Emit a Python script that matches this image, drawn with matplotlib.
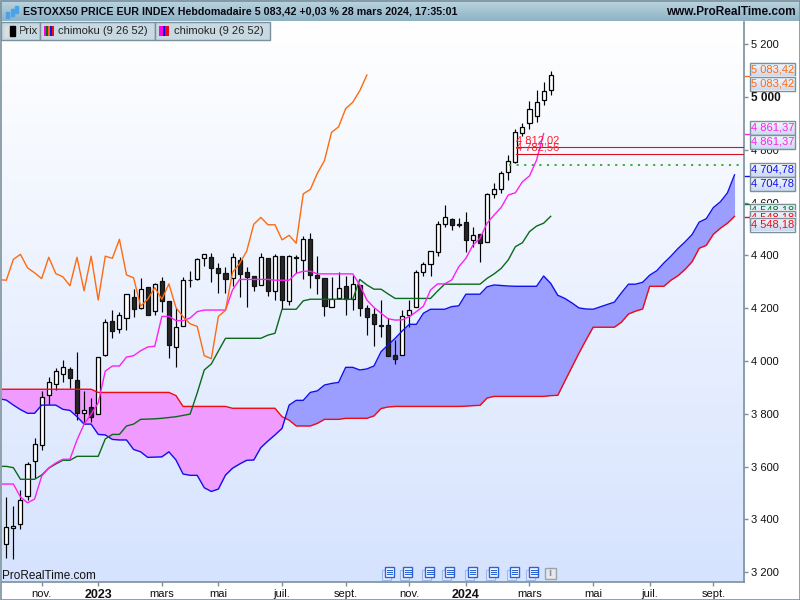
import matplotlib
matplotlib.use("Agg")
import matplotlib.pyplot as plt
import numpy as np
from matplotlib.patches import Rectangle

plt.rcParams["font.family"] = ["Liberation Sans", "DejaVu Sans"]

TITLE = "ESTOXX50 PRICE EUR INDEX Hebdomadaire 5 083,42 +0,03 % 28 mars 2024, 17:35:01"
SITE = "www.ProRealTime.com"
TABS = ["Prix", "chimoku (9 26 52)", "chimoku (9 26 52)"]

# weekly candles
opens = [3306, 3366, 3381, 3487, 3620, 3681, 3870, 3912, 3950, 3969, 3927, 3804, 3826,
         3798, 4024, 4151, 4120, 4162, 4241, 4200, 4279, 4188, 4302, 4226, 4052, 4131,
         4308, 4309, 4389, 4394, 4352, 4332, 4313, 4383, 4337, 4322, 4287, 4390, 4266,
         4398, 4228, 4393, 4381, 4461, 4326, 4313, 4206, 4240, 4284, 4236, 4288, 4201,
         4178, 4135, 4136, 4022, 4022, 4173, 4203, 4336, 4366, 4412, 4518, 4537, 4519,
         4525, 4457, 4480, 4450, 4631, 4650, 4715, 4753, 4862, 4900, 4927, 4987, 5025]
highs = [3484, 3450, 3511, 3616, 3707, 3885, 3941, 3973, 4003, 3977, 4033, 3885, 3859,
         4014, 4159, 4193, 4186, 4253, 4272, 4314, 4279, 4297, 4319, 4226, 4201, 4319,
         4342, 4390, 4405, 4409, 4370, 4357, 4408, 4393, 4355, 4322, 4408, 4390, 4405,
         4398, 4401, 4401, 4473, 4486, 4398, 4313, 4317, 4337, 4322, 4326, 4288, 4212,
         4201, 4231, 4162, 4080, 4193, 4231, 4345, 4376, 4416, 4530, 4591, 4541, 4541,
         4563, 4509, 4480, 4637, 4673, 4721, 4780, 4878, 4900, 4985, 5027, 5056, 5097]
lows = [3255, 3251, 3365, 3473, 3556, 3663, 3837, 3890, 3920, 3897, 3776, 3765, 3769,
        3798, 4019, 4088, 4105, 4117, 4166, 4196, 4175, 4175, 4186, 4012, 3976, 4131,
        4281, 4307, 4361, 4300, 4259, 4259, 4284, 4244, 4206, 4266, 4287, 4246, 4231,
        4196, 4212, 4334, 4309, 4275, 4254, 4170, 4206, 4234, 4174, 4193, 4170, 4098,
        4058, 4092, 4020, 3989, 4022, 4130, 4203, 4322, 4322, 4398, 4509, 4496, 4509,
        4414, 4433, 4376, 4450, 4616, 4635, 4686, 4749, 4852, 4879, 4906, 4970, 5009]
closes = [3372, 3376, 3472, 3609, 3684, 3865, 3922, 3961, 3976, 3936, 3802, 3813, 3789,
          4014, 4147, 4115, 4173, 4253, 4196, 4272, 4175, 4291, 4226, 4062, 4128, 4308,
          4306, 4385, 4404, 4353, 4334, 4312, 4393, 4331, 4319, 4285, 4393, 4266, 4397,
          4231, 4397, 4389, 4461, 4326, 4315, 4208, 4234, 4278, 4234, 4292, 4202, 4168,
          4141, 4131, 4020, 4009, 4169, 4192, 4336, 4369, 4416, 4518, 4544, 4516, 4516,
          4459, 4476, 4446, 4633, 4650, 4711, 4759, 4866, 4887, 4956, 4980, 5024, 5083]

tenkan = [3534, 3534, 3534, 3485, 3463, 3477, 3564, 3595, 3614, 3628, 3628,
          3701, 3761, 3799, 3841, 3962, 3981, 3981, 4015, 4020, 4039,
          4053, 4056, 4169, 4169, 4153, 4153, 4163, 4187, 4193, 4193,
          4193, 4193, 4269, 4309, 4309, 4309, 4309, 4309, 4306, 4306,
          4306, 4332, 4340, 4340, 4330, 4330, 4330, 4330, 4330, 4330,
          4288, 4231, 4203, 4181, 4160, 4155, 4156, 4168, 4187, 4208,
          4269, 4292, 4292, 4307, 4357, 4389, 4439, 4465, 4522, 4553,
          4582, 4629, 4637, 4679, 4701, 4761, 4861]
kijun = [3601, 3601, 3596, 3552, 3552, 3552, 3568, 3594, 3610, 3624, 3624,
         3639, 3639, 3639, 3639, 3705, 3722, 3722, 3754, 3761, 3779,
         3780, 3781, 3783, 3786, 3789, 3794, 3799, 3879, 3966, 3989,
         4038, 4086, 4086, 4086, 4086, 4086, 4086, 4098, 4105, 4196,
         4196, 4196, 4228, 4234, 4234, 4234, 4234, 4234, 4234, 4234,
         4309, 4288, 4272, 4272, 4254, 4237, 4237, 4237, 4237, 4237,
         4237, 4265, 4291, 4291, 4291, 4291, 4291, 4291, 4313, 4330,
         4351, 4383, 4433, 4448, 4490, 4511, 4522, 4548]
senkou_a = [3857, 3852, 3833, 3816, 3802, 3802, 3833, 3833, 3833, 3817, 3813,
            3789, 3761, 3761, 3722, 3720, 3703, 3701, 3701, 3665, 3656,
            3635, 3636, 3637, 3656, 3625, 3572, 3567, 3567, 3520, 3506,
            3515, 3568, 3594, 3610, 3624, 3625, 3672, 3697, 3720, 3745,
            3833, 3851, 3851, 3881, 3887, 3909, 3915, 3919, 3976, 3976,
            3966, 3970, 3981, 4035, 4061, 4086, 4114, 4139, 4139, 4181,
            4196, 4196, 4196, 4206, 4209, 4253, 4253, 4253, 4281, 4288,
            4286, 4284, 4283, 4283, 4283, 4283, 4322, 4294, 4249, 4237,
            4220, 4201, 4197, 4196, 4205, 4214, 4223, 4258, 4291, 4291,
            4298, 4325, 4342, 4371, 4397, 4426, 4451, 4479, 4526, 4539,
            4581, 4603, 4637, 4705]
senkou_b = [3893, 3893, 3893, 3893, 3893, 3893, 3893, 3893, 3893, 3893, 3893,
            3893, 3893, 3893, 3881, 3881, 3881, 3881, 3881, 3881, 3881,
            3881, 3881, 3881, 3881, 3869, 3828, 3828, 3828, 3828, 3828,
            3828, 3828, 3821, 3821, 3821, 3821, 3821, 3821, 3821, 3789,
            3776, 3754, 3754, 3754, 3764, 3779, 3779, 3779, 3783, 3783,
            3783, 3783, 3792, 3820, 3826, 3828, 3828, 3828, 3828, 3828,
            3828, 3828, 3828, 3828, 3828, 3829, 3831, 3832, 3860, 3866,
            3866, 3866, 3866, 3866, 3866, 3866, 3866, 3869, 3870, 3924,
            3977, 4030, 4080, 4128, 4128, 4128, 4128, 4147, 4178, 4189,
            4197, 4283, 4283, 4283, 4306, 4323, 4347, 4376, 4427, 4438,
            4480, 4503, 4522, 4548]

level_red = [4812.02, 4782.56]
level_red_labels = ["4 812,02", "4 782,56"]
level_green = 4744

y_ticks = [3200, 3400, 3600, 3800, 4000, 4200, 4400, 4600, 4800, 5000, 5200]
y_labels = ["3 200", "3 400", "3 600", "3 800", "4 000", "4 200", "4 400", "4 600", "4 800", "5 000", "5 200"]
x_ticks = [5, 13, 22, 30, 39, 48, 57, 65, 74, 83, 91, 100]
x_labels = ["nov.", "2023", "mars", "mai", "juil.", "sept.", "nov.", "2024", "mars", "mai", "juil.", "sept."]

last_prices = ["5 083,42", "5 083,42", "4 861,37", "4 861,37", "4 704,78", "4 704,78",
               "4 548,18", "4 548,18", "4 548,18"]

ORANGE = "#ff6a10"
MAGENTA = "#ff20f0"
GREEN = "#0a6a1a"
BLUE = "#1010ee"
RED = "#f00a14"
BORDER = "#7a909c"

fig = plt.figure(figsize=(8, 6), dpi=100, facecolor="white")
ax = fig.add_axes([1.5 / 800, 18 / 600, 743 / 800, 560 / 600])

grad = np.linspace(0, 1, 256).reshape(-1, 1)
ax.imshow(grad, extent=(0, 1, 0, 1), transform=ax.transAxes, aspect="auto", zorder=0,
          cmap=matplotlib.colors.LinearSegmentedColormap.from_list("bg", ["#ffffff", "#d6e3fe"]))

xs = np.arange(len(closes))
o = np.array(opens, dtype=float)
c = np.array(closes, dtype=float)

# cloud
cloud_x = np.arange(-1, len(senkou_a) - 1)
a = np.array(senkou_a, dtype=float)
b = np.array(senkou_b, dtype=float)
ax.fill_between(cloud_x, a, b, where=a >= b, interpolate=True, color="#9b9dff", lw=0, zorder=1)
ax.fill_between(cloud_x, a, b, where=a < b, interpolate=True, color="#f09bff", lw=0, zorder=1)

# candles
ax.vlines(xs, lows, highs, color="black", lw=0.85, zorder=3)
up = c >= o
ax.bar(xs[up], (c - o)[up], bottom=o[up], width=0.58, facecolor="white", edgecolor="black", lw=0.9, zorder=4)
ax.bar(xs[~up], (o - c)[~up], bottom=c[~up], width=0.58, facecolor="#262626", edgecolor="#111111", lw=0.9, zorder=4)

# lines
ax.plot(cloud_x, senkou_b, color=RED, lw=1.0, zorder=5)
ax.plot(cloud_x, senkou_a, color=BLUE, lw=1.0, zorder=5)
ax.plot(np.arange(-1, len(kijun) - 1), kijun, color=GREEN, lw=1.0, zorder=5)
ax.plot(np.arange(-1, len(tenkan) - 1), tenkan, color=MAGENTA, lw=1.0, zorder=5)
ax.plot(np.arange(-1, 52), closes[25:], color=ORANGE, lw=1.0, zorder=5)

# price levels
for level, label in zip(level_red, level_red_labels):
    ax.plot([72.1, 105], [level, level], color="#d81020", lw=0.8, zorder=6)
    ax.text(72.1, level + 25, label, color="#ff2030", fontsize=8, va="center", ha="left", zorder=6)
ax.plot([71.1, 105], [level_green, level_green], color="#2fa82f", lw=1.3, ls=(0, (1.2, 3)), zorder=6)

ax.set_xlim(-0.68, 104.41)
ax.set_ylim(3163, 5284)
ax.yaxis.tick_right()
ax.set_yticks(y_ticks, y_labels, fontsize=8)
ax.get_yticklabels()[y_ticks.index(5000)].set_fontweight("bold")
ax.get_yticklabels()[y_ticks.index(5000)].set_fontsize(8.5)
ax.set_xticks(x_ticks, x_labels, fontsize=8)
for lab in ax.get_xticklabels():
    if lab.get_text() in ("2023", "2024"):
        lab.set_fontweight("bold")
        lab.set_fontsize(9)
ax.tick_params(axis="both", length=3, width=1, color=BORDER, pad=2, labelcolor="#111111")
for spine in ax.spines.values():
    spine.set_color(BORDER)
    spine.set_linewidth(1.2)
ax.spines["top"].set_visible(False)
ax.spines["left"].set_visible(False)

# pixel overlay for the chart furniture
ui = fig.add_axes([0, 0, 1, 1], zorder=10)
ui.axis("off")
ui.patch.set_alpha(0)

bar = np.linspace(0, 1, 32).reshape(-1, 1)
ui.imshow(bar, extent=(0, 800, 21, 0), aspect="auto", zorder=1,
          cmap=matplotlib.colors.LinearSegmentedColormap.from_list("bar", ["#bcd5e0", "#8fb3c4"]))
ui.text(23, 12, TITLE, fontsize=7.65, fontweight="bold", color="#0a0a14", va="center", ha="left", zorder=3)
ui.text(796, 12, SITE, fontsize=8.5, fontweight="bold", color="#0a0a14", va="center", ha="right", zorder=3)

# logo
ui.add_patch(Rectangle((6, 12), 3, 6, color="#4aa3e8", zorder=3))
ui.add_patch(Rectangle((10.5, 9), 3, 7, color="#4aa3e8", zorder=3))
ui.add_patch(Rectangle((15, 6), 3, 7, color="#4aa3e8", zorder=3))

# tabs
tab_edges = [1, 39.5, 154.5, 270]
for i, label in enumerate(TABS):
    x0, x1 = tab_edges[i], tab_edges[i + 1]
    ui.add_patch(Rectangle((x0, 21.5), x1 - x0, 18, facecolor="#c9d9e2", edgecolor=BORDER, lw=1.0, zorder=2))
    if i == 0:
        ui.add_patch(Rectangle((5, 26), 5, 10, color="#dddddd", zorder=3))
        ui.add_patch(Rectangle((10, 26), 5, 10, color="#000000", zorder=3))
        ui.text(18, 31, "Prix", fontsize=8, color="#222222", va="center", zorder=2.5)
        ui.add_patch(Rectangle((15, 26), 3.5, 10, color="#c9d9e2", zorder=2.7))
    else:
        strip = ["#ff00e0", "#0a6a1a", "#ff6a10", "#1010ee", "#f00a14"] if i == 1 else ["#ff00e0", "#ff00e0", "#0000ee", "#f00a14", "#f00a14"]
        for k, col in enumerate(strip):
            ui.add_patch(Rectangle((x0 + 4.5 + k * 2, 26), 2, 10, color=col, lw=0, zorder=3))
        ui.text(x0 + 19, 31, label, fontsize=8, color="#222222", va="center", zorder=3)

ui.text(2, 576, "ProRealTime.com", fontsize=8.5, color="#111111", va="center", ha="left", zorder=3)

# last price boxes
box_tops = [62.5, 76.5, 120.7, 134.7, 162.7, 176.7, 203.5, 210.5, 217.5]
box_cols = [ORANGE, ORANGE, MAGENTA, MAGENTA, BLUE, BLUE, "#0a7a2a", RED, RED]
for top, col, txt in zip(box_tops, box_cols, last_prices):
    ui.imshow(np.linspace(0, 1, 16).reshape(-1, 1), extent=(749.5, 795, top + 14, top), aspect="auto", zorder=4,
              cmap=matplotlib.colors.LinearSegmentedColormap.from_list("box", ["#f6f9fd", "#ccdaf0"]))
    ui.add_patch(Rectangle((749.5, top), 45.5, 14, fill=False, edgecolor=BORDER, lw=1.0, zorder=4))
    ui.text(772.2, top + 7, txt, color=col, fontsize=8, ha="center", va="center", zorder=4)

for y, col in zip([76, 134, 176, 203.5, 217], [ORANGE, MAGENTA, BLUE, "#0a7a2a", RED]):
    ui.plot([744.5, 749], [y, y], color=col, lw=1.0, zorder=3)

# news icons
for x in [389, 407.3, 429.3, 449.3, 471.7, 492.7, 514, 533.3]:
    ui.add_patch(Rectangle((x - 7, 569.5), 9, 10, facecolor="#dfe8fb", edgecolor="#a0b8f0", lw=0.8, zorder=3))
    ui.add_patch(Rectangle((x - 4, 567), 9, 10, facecolor="white", edgecolor="#2a62d8", lw=1.0, zorder=3))
    for dy in (3, 5.2, 7.4):
        ui.plot([x - 2, x + 3.4], [567 + dy, 567 + dy], color="#2a62d8", lw=0.8, zorder=3)
ui.add_patch(Rectangle((544.5, 567.5), 11, 11, facecolor="#e6e8ea", edgecolor="#9aa4ac", lw=1.0, zorder=3))
ui.text(550, 573.5, "i", fontsize=8, fontweight="bold", color="#8a949c", ha="center", va="center", zorder=3)

# outer frame
ui.add_patch(Rectangle((0.5, 0.5), 799, 599, fill=False, edgecolor=BORDER, lw=1.2, zorder=6))

ui.set_xlim(0, 800)
ui.set_ylim(600, 0)

fig.savefig("out.png", dpi=100, facecolor="white")
